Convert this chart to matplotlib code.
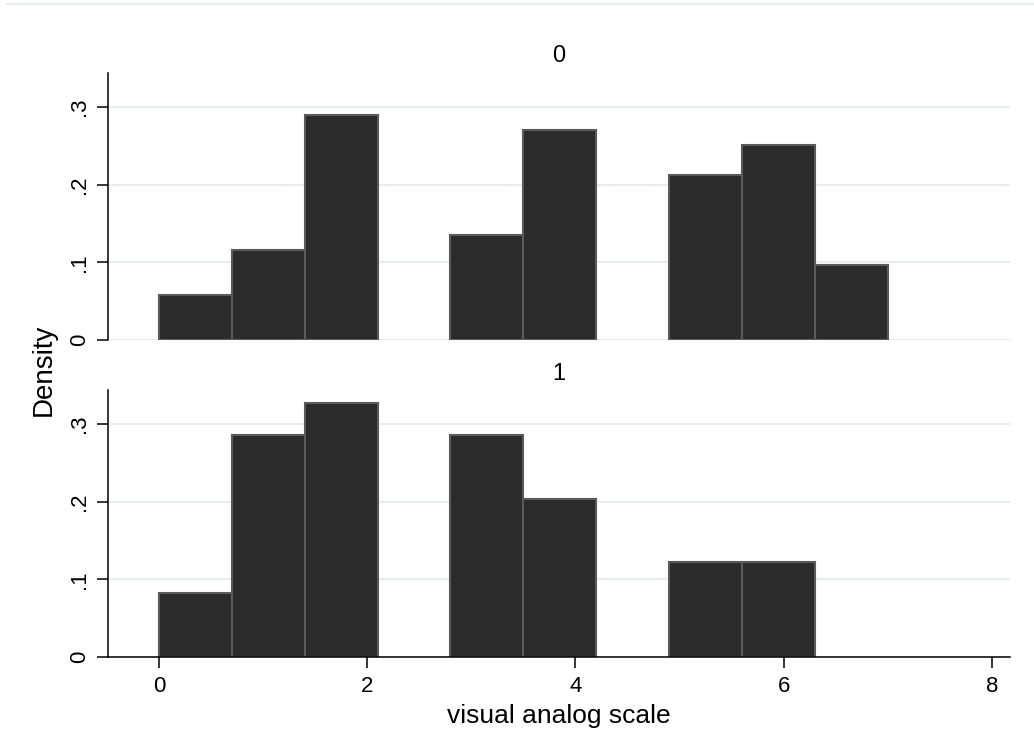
import numpy as np
import matplotlib
matplotlib.use("Agg")
import matplotlib.pyplot as plt

plt.rcParams['font.family'] = ['Liberation Sans', 'DejaVu Sans']

# histogram bins (width 0.7) and densities per group
bin_left = [0.0, 0.7, 1.4, 2.1, 2.8, 3.5, 4.2, 4.9, 5.6, 6.3]
bin_width = 0.7
dens_0 = [0.058, 0.116, 0.290, 0.0, 0.135, 0.270, 0.0, 0.212, 0.251, 0.097]
dens_1 = [0.082, 0.286, 0.327, 0.0, 0.286, 0.204, 0.0, 0.122, 0.122, 0.0]
groups = ["0", "1"]
yticks = [0, 0.1, 0.2, 0.3]
ytick_labels = ["0", ".1", ".2", ".3"]
xticks = [0, 2, 4, 6, 8]

W, H = 1034, 755
fig = plt.figure(figsize=(W / 100, H / 100), dpi=100)
fig.patch.set_facecolor('white')

# faint line at top of the graph
fig.add_artist(plt.Line2D([7 / W, 1], [1 - 4 / H, 1 - 4 / H], color='#e6ecef', lw=1.5))

left, right = 108, 1010
panels = [(73, 340), (390, 657)]
title_y = [56, 374]
axes = []
for (top, bot), g, d, ty in zip(panels, groups, [dens_0, dens_1], title_y):
    ax = fig.add_axes([left / W, 1 - bot / H, (right - left) / W, (bot - top) / H])
    ax.set_xlim(-0.49, 8.175)
    ax.set_ylim(0, 0.344)
    for y in yticks:
        ax.axhline(y, color='#e8eef0', lw=1.6, zorder=0)
    xs = [x for x, v in zip(bin_left, d) if v > 0]
    hs = [v for v in d if v > 0]
    ax.bar(xs, hs, width=bin_width, align='edge', color='#2b2b2b',
           edgecolor='#5a5a5a', linewidth=1.5, zorder=2)
    for s in ['top', 'right', 'bottom']:
        ax.spines[s].set_visible(False)
    ax.spines['left'].set_linewidth(1.1)
    ax.set_yticks(yticks)
    ax.set_yticklabels(ytick_labels, rotation=90, va='center', fontsize=16)
    ax.tick_params(axis='y', length=8, width=1.1, pad=5)
    fig.text((left + right) / 2 / W, 1 - ty / H, g, fontsize=17,
             ha='center', va='center')
    axes.append(ax)

axes[0].set_xticks([])
ax = axes[1]
ax.spines['bottom'].set_visible(True)
ax.spines['bottom'].set_linewidth(1.1)
ax.set_xticks(xticks)
ax.set_xticklabels([str(t) for t in xticks], fontsize=16)
ax.tick_params(axis='x', length=8, width=1.1, pad=6)

fig.text((left + right) / 2 / W, 1 - 716 / H, "visual analog scale", fontsize=19,
         ha='center', va='center')
fig.text(44 / W, 1 - 370 / H, "Density", rotation=90, fontsize=20,
         ha='center', va='center')

fig.savefig("out.png", dpi=100)
